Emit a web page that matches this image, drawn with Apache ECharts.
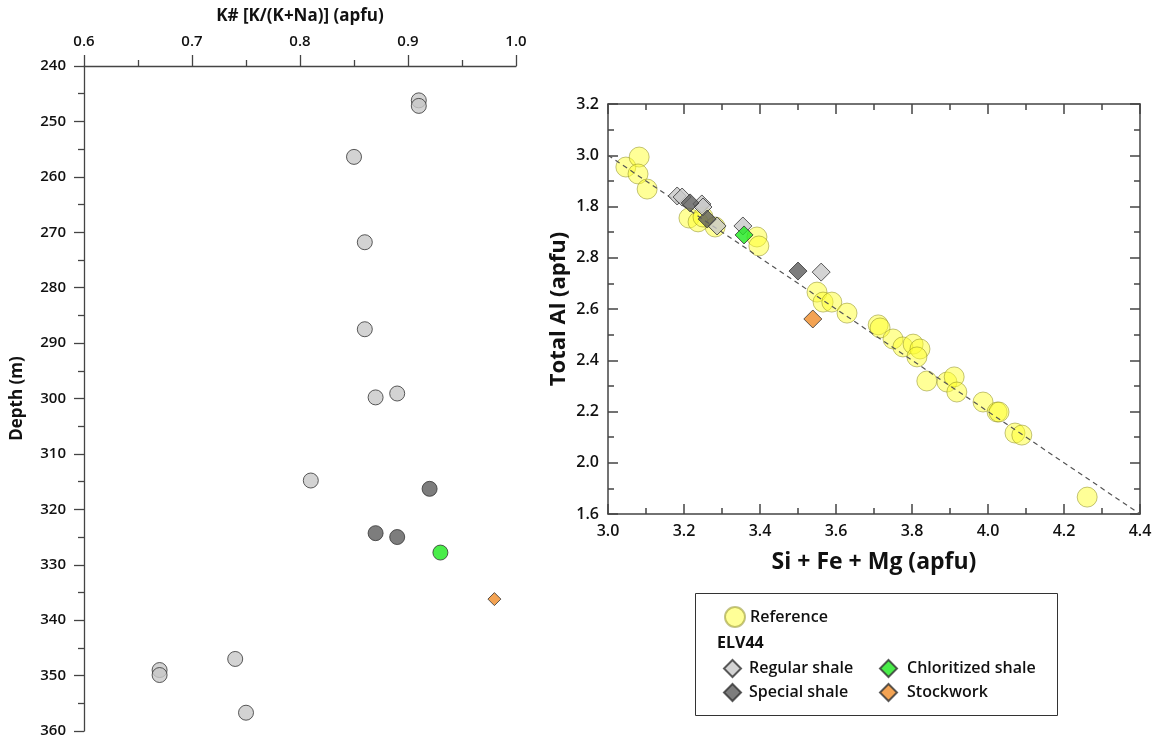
<!DOCTYPE html>
<html>
<head>
<meta charset="utf-8">
<script src="https://cdn.jsdelivr.net/npm/echarts@6/dist/echarts.min.js"></script>
<style>
html,body{margin:0;padding:0;background:#fff;}
#chart{width:1156px;height:740px;}
</style>
</head>
<body>
<div id="chart"></div>
<script>
// ---------- Left panel: K# vs depth ----------
const leftXTicks = ['0.6', '0.7', '0.8', '0.9', '1.0'];
const regularShaleKDepth = [[0.91, 246.2], [0.91, 247.2], [0.85, 256.4], [0.86, 271.8], [0.86, 287.5],
  [0.87, 299.8], [0.89, 299.1], [0.81, 314.8], [0.74, 347.0], [0.67, 349.0], [0.67, 349.9], [0.75, 356.7]];
const specialShaleKDepth = [[0.92, 316.3], [0.87, 324.3], [0.89, 325.0]];
const chloritizedKDepth = [[0.93, 327.8]];
const stockworkKDepth = [[0.98, 336.2]];

// ---------- Right panel: Si+Fe+Mg vs Total Al ----------
const referenceSiAl = [[3.047, 2.954], [3.082, 2.993], [3.079, 2.927], [3.103, 2.868], [3.213, 2.755], [3.237, 2.740],
  [3.250, 2.759], [3.282, 2.720], [3.392, 2.681], [3.397, 2.646], [3.550, 2.466], [3.566, 2.427], [3.589, 2.427],
  [3.629, 2.384], [3.711, 2.338], [3.716, 2.326], [3.750, 2.283], [3.776, 2.252], [3.803, 2.263], [3.821, 2.244],
  [3.813, 2.213], [3.839, 2.119], [3.892, 2.115], [3.911, 2.135], [3.918, 2.076], [3.987, 2.037], [4.024, 1.998],
  [4.029, 1.998], [4.071, 1.916], [4.089, 1.908], [4.261, 1.666]];
const regularShaleSiAl = [[3.182, 2.841], [3.195, 2.837], [3.247, 2.810], [3.250, 2.798], [3.287, 2.724], [3.355, 2.724], [3.561, 2.544]];
const specialShaleSiAl = [[3.216, 2.814], [3.261, 2.751], [3.500, 2.548]];
const chloritizedSiAl = [[3.358, 2.689]];
const stockworkSiAl = [[3.539, 2.361]];
const referenceLine = [[3.0, 3.0], [4.4, 1.6]];
const rightXTicks = ['3.0', '3.2', '3.4', '3.6', '3.8', '4.0', '4.2', '4.4'];
// y tick labels as printed in the reference, bottom (1.6) to top (3.2)
const rightYTicks = ['1.6', '2.0', '2.2', '2.4', '2.6', '2.8', '1.8', '3.0', '3.2'];

const FONT = 'Open Sans';
const AX = '#444';
const C_REG = '#c8c8c8', C_SPE = '#5c5c5c', C_GRN = '#1de81d', C_ORA = '#f08c28';
const BORDER = '#333';

const chart = echarts.init(document.getElementById('chart'), null, {renderer: 'canvas'});

function boxAxis(pos, gridIndex, min, max, interval, showLabel, tickLabelFn) {
  return {
    type: 'value', gridIndex, position: pos, min, max, interval,
    axisLine: {show: true, onZero: false, lineStyle: {color: AX, width: 1.5}},
    axisTick: {show: true, inside: true, length: 10, lineStyle: {color: AX, width: 1.5}},
    minorTick: {show: true, splitNumber: 2, length: 6, lineStyle: {color: AX, width: 1.5}},
    splitLine: {show: false},
    axisLabel: {show: showLabel, margin: 9, color: '#111', fontFamily: FONT, fontWeight: 600, fontSize: 16,
      formatter: tickLabelFn}
  };
}

const legendText = {fontFamily: FONT, fontSize: 16, fontWeight: 600, color: '#111', lineHeight: 18};

const option = {
  animation: false,
  backgroundColor: '#fff',
  grid: [
    {left: 84, right: 640, top: 66, bottom: 9},
    {left: 608, right: 16, top: 104, bottom: 226}
  ],
  xAxis: [
    {
      type: 'value', gridIndex: 0, position: 'top', min: 0.6, max: 1.0, interval: 0.1,
      name: 'K# [K/(K+Na)] (apfu)', nameLocation: 'middle', nameGap: 41,
      nameTextStyle: {fontFamily: FONT, fontWeight: 'bold', fontSize: 17, color: '#111'},
      axisLine: {show: true, onZero: false, lineStyle: {color: AX, width: 1.3}},
      axisTick: {show: true, length: 11, lineStyle: {color: AX, width: 1.3}},
      minorTick: {show: true, splitNumber: 2, length: 6, lineStyle: {color: AX, width: 1.3}},
      splitLine: {show: false},
      axisLabel: {margin: 17, color: '#111', fontFamily: FONT, fontWeight: 600, fontSize: 15,
        formatter: v => leftXTicks[Math.round((v - 0.6) / 0.1)]}
    },
    Object.assign(boxAxis('bottom', 1, 3.0, 4.4, 0.2, true,
      v => rightXTicks[Math.round((v - 3.0) / 0.2)]), {
      name: 'Si + Fe + Mg (apfu)', nameLocation: 'middle', nameGap: 37,
      nameTextStyle: {fontFamily: FONT, fontWeight: 'bold', fontSize: 23, color: '#111'}
    }),
    boxAxis('top', 1, 3.0, 4.4, 0.2, false)
  ],
  yAxis: [
    {
      type: 'value', gridIndex: 0, position: 'left', min: 240, max: 360, interval: 10, inverse: true,
      name: 'Depth (m)', nameLocation: 'middle', nameGap: 58, nameRotate: 90,
      nameTextStyle: {fontFamily: FONT, fontWeight: 'bold', fontSize: 17, color: '#111'},
      axisLine: {show: true, onZero: false, lineStyle: {color: AX, width: 1.3}},
      axisTick: {show: true, length: 10, lineStyle: {color: AX, width: 1.3}},
      minorTick: {show: true, splitNumber: 2, length: 6, lineStyle: {color: AX, width: 1.3}},
      splitLine: {show: false},
      axisLabel: {margin: 18, color: '#111', fontFamily: FONT, fontWeight: 600, fontSize: 15}
    },
    Object.assign(boxAxis('left', 1, 1.6, 3.2, 0.2, true,
      v => rightYTicks[Math.round((v - 1.6) / 0.2)]), {
      name: 'Total Al (apfu)', nameLocation: 'middle', nameGap: 38, nameRotate: 90,
      nameTextStyle: {fontFamily: FONT, fontWeight: 'bold', fontSize: 22, color: '#111'}
    }),
    boxAxis('right', 1, 1.6, 3.2, 0.2, false)
  ],
  legend: [
    {
      left: 719, top: 601, itemWidth: 20, itemHeight: 20, selectedMode: false,
      data: [{name: 'Reference', icon: 'circle'}],
      textStyle: Object.assign({padding: [0, 0, 0, 0]}, legendText)
    },
    {
      orient: 'vertical', left: 718, top: 654, itemWidth: 17, itemHeight: 17, itemGap: 5, selectedMode: false,
      data: [{name: 'Regular shale', icon: 'diamond'}, {name: 'Special shale', icon: 'diamond'}],
      textStyle: Object.assign({padding: [0, 0, 0, 3]}, legendText)
    },
    {
      orient: 'vertical', left: 874, top: 654, itemWidth: 17, itemHeight: 17, itemGap: 5, selectedMode: false,
      data: [{name: 'Chloritized shale', icon: 'diamond'}, {name: 'Stockwork', icon: 'diamond'}],
      textStyle: Object.assign({padding: [0, 0, 0, 5]}, legendText)
    }
  ],
  graphic: [
    {type: 'rect', left: 693, top: 591, shape: {width: 362, height: 122},
      style: {fill: 'none', stroke: '#333', lineWidth: 1}, z: 0},
    {type: 'text', left: 717, top: 635,
      style: {text: 'ELV44', fontFamily: FONT, fontWeight: 'bold', fontSize: 16, fill: '#111'}}
  ],
  series: [
    // left panel
    {name: 'Regular shale', type: 'scatter', xAxisIndex: 0, yAxisIndex: 0, symbol: 'circle', symbolSize: 15,
      data: regularShaleKDepth, itemStyle: {color: C_REG, borderColor: BORDER, borderWidth: 1}},
    {name: 'Special shale', type: 'scatter', xAxisIndex: 0, yAxisIndex: 0, symbol: 'circle', symbolSize: 15,
      data: specialShaleKDepth, itemStyle: {color: C_SPE, borderColor: BORDER, borderWidth: 1}},
    {name: 'Chloritized shale', type: 'scatter', xAxisIndex: 0, yAxisIndex: 0, symbol: 'circle', symbolSize: 15,
      data: chloritizedKDepth, itemStyle: {color: C_GRN, borderColor: BORDER, borderWidth: 1}},
    {name: 'Stockwork', type: 'scatter', xAxisIndex: 0, yAxisIndex: 0, symbol: 'diamond', symbolSize: 13,
      data: stockworkKDepth, itemStyle: {color: C_ORA, borderColor: BORDER, borderWidth: 1}},
    // right panel
    {name: 'Reference', type: 'scatter', xAxisIndex: 1, yAxisIndex: 1, symbol: 'circle', symbolSize: 20,
      data: referenceSiAl, z: 2,
      itemStyle: {color: 'rgba(255,255,45,0.62)', borderColor: 'rgba(140,140,30,0.65)', borderWidth: 1}},
    {name: 'refline', type: 'line', xAxisIndex: 1, yAxisIndex: 1, data: referenceLine, symbol: 'none', z: 3,
      lineStyle: {color: '#555', width: 1.2, type: [5, 4]}, silent: true},
    {name: 'Regular shale', type: 'scatter', xAxisIndex: 1, yAxisIndex: 1, symbol: 'diamond', symbolSize: 18,
      data: regularShaleSiAl, z: 4, itemStyle: {color: C_REG, borderColor: BORDER, borderWidth: 1}},
    {name: 'Special shale', type: 'scatter', xAxisIndex: 1, yAxisIndex: 1, symbol: 'diamond', symbolSize: 18,
      data: specialShaleSiAl, z: 4, itemStyle: {color: C_SPE, borderColor: BORDER, borderWidth: 1}},
    {name: 'Chloritized shale', type: 'scatter', xAxisIndex: 1, yAxisIndex: 1, symbol: 'diamond', symbolSize: 18,
      data: chloritizedSiAl, z: 4, itemStyle: {color: C_GRN, borderColor: BORDER, borderWidth: 1}},
    {name: 'Stockwork', type: 'scatter', xAxisIndex: 1, yAxisIndex: 1, symbol: 'diamond', symbolSize: 18,
      data: stockworkSiAl, z: 4, itemStyle: {color: C_ORA, borderColor: BORDER, borderWidth: 1}}
  ]
};
chart.setOption(option);
</script>
</body>
</html>
